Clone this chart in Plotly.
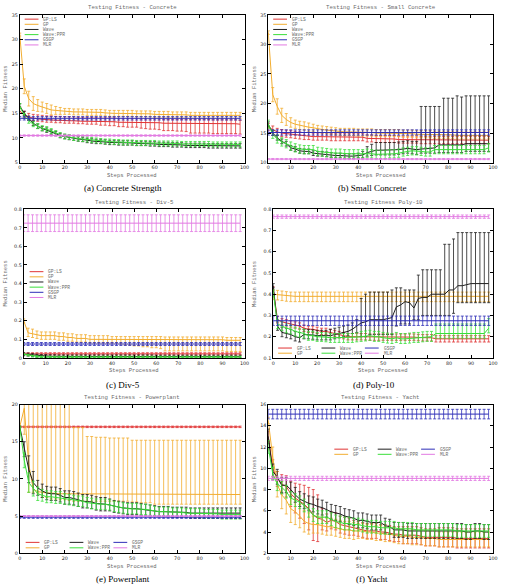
import plotly.graph_objects as go

W, H = 505, 588

STEPS = list(range(0, 100, 2))
SERIES = ["GP:LS", "GP", "Wave", "Wave:PPR", "GSGP", "MLR"]
COLORS = ["#e03434", "#f2ad30", "#1e1e1e", "#3ade3a", "#2e2eb8", "#e27ae2"]

TITLES = ["Testing Fitness - Concrete", "Testing Fitness - Small Concrete",
          "Testing Fitness - Div-5", "Testing Fitness Poly-10",
          "Testing Fitness - Powerplant", "Testing Fitness - Yacht"]
CAPTIONS = ["(a) Concrete Strength", "(b) Small Concrete", "(c) Div-5",
            "(d) Poly-10", "(e) Powerplant", "(f) Yacht"]
X_TITLE = "Steps Processed"
Y_TITLE = "Median Fitness"
X_TICKS = [0, 10, 20, 30, 40, 50, 60, 70, 80, 90, 100]

# ---------------- (a) Concrete ----------------
CON_GPLS = [15.5, 14.6, 14.2, 14.0, 13.9, 13.8, 13.7, 13.7, 13.6, 13.6,
            13.5, 13.5, 13.5, 13.4, 13.4, 13.4, 13.4, 13.4, 13.3, 13.3,
            13.3, 13.3, 13.2, 13.2, 13.2, 13.2, 13.2, 13.1, 13.1, 13.1,
            13.1, 13.1, 13.0, 13.0, 13.0, 13.0, 13.0, 13.0, 13.0, 13.0,
            13.0, 13.0, 13.0, 12.9, 12.9, 12.9, 12.9, 12.9, 12.9, 12.8]
CON_GPLS_UP = 0.8
CON_GPLS_DN = [0.5, 0.5, 0.5, 0.5, 0.5, 0.5, 0.5, 0.5, 0.5, 0.5,
               0.5, 0.5, 0.5, 0.5, 0.5, 0.6, 0.6, 0.6, 0.7, 0.7,
               0.8, 0.8, 0.9, 0.9, 1.0, 1.0, 1.0, 1.1, 1.2, 1.3,
               1.3, 1.4, 1.5, 1.5, 1.5, 1.6, 1.6, 1.7, 2.0, 2.0,
               2.0, 2.0, 2.0, 2.0, 2.0, 2.0, 2.0, 2.0, 2.0, 2.0]
CON_GP = [31.0, 20.5, 18.0, 17.0, 16.6, 16.3, 16.0, 15.7, 15.6, 15.5,
          15.4, 15.4, 15.3, 15.3, 15.3, 15.2, 15.2, 15.2, 15.2, 15.1,
          15.0, 15.0, 15.0, 15.0, 15.0, 15.0, 14.9, 14.9, 14.9, 14.9,
          14.8, 14.8, 14.8, 14.8, 14.7, 14.7, 14.7, 14.7, 14.6, 14.6,
          14.6, 14.6, 14.6, 14.6, 14.6, 14.6, 14.6, 14.6, 14.6, 14.6]
CON_GP_ERR = [0.3, 1.5, 1.5, 1.4, 1.2, 1.0, 1.0, 1.0, 0.8, 0.7,
              0.6, 0.6, 0.6, 0.6, 0.6, 0.6, 0.6, 0.6, 0.6, 0.6,
              0.6, 0.6, 0.6, 0.6, 0.6, 0.6, 0.6, 0.6, 0.6, 0.6,
              0.6, 0.6, 0.6, 0.6, 0.6, 0.6, 0.6, 0.6, 0.6, 0.6,
              0.6, 0.6, 0.6, 0.6, 0.6, 0.6, 0.6, 0.6, 0.6, 0.6]
CON_WAVE = [16.5, 15.0, 14.0, 13.0, 12.4, 11.9, 11.6, 11.2, 10.9, 10.5,
            10.3, 10.1, 10.0, 9.8, 9.7, 9.5, 9.4, 9.3, 9.3, 9.2,
            9.1, 9.1, 9.0, 9.0, 9.0, 9.0, 8.9, 8.9, 8.9, 8.8,
            8.8, 8.7, 8.7, 8.7, 8.6, 8.6, 8.6, 8.5, 8.5, 8.5,
            8.5, 8.5, 8.4, 8.4, 8.4, 8.4, 8.4, 8.4, 8.4, 8.4]
CON_WAVE_ERR = 0.45
CON_PPR = [16.5, 14.5, 13.5, 12.8, 12.4, 12.0, 11.8, 11.4, 11.0, 10.6,
           10.3, 10.2, 10.0, 9.9, 9.8, 9.7, 9.6, 9.5, 9.4, 9.3,
           9.3, 9.2, 9.2, 9.1, 9.1, 9.1, 9.0, 9.0, 9.0, 9.0,
           9.0, 8.9, 8.9, 8.9, 8.9, 8.9, 8.8, 8.8, 8.8, 8.8,
           8.8, 8.8, 8.8, 8.7, 8.7, 8.7, 8.7, 8.7, 8.7, 8.7]
CON_PPR_ERR = 0.5
CON_GSGP = [14.0] * 50
CON_GSGP_ERR = 0.35
CON_MLR = [10.5] * 50
CON_MLR_ERR = 0.15

# ---------------- (b) Small Concrete ----------------
SC_GPLS = [16.0, 15.6, 15.2, 15.0, 14.9, 14.8, 14.7, 14.6, 14.5, 14.5,
           14.4, 14.4, 14.4, 14.4, 14.3, 14.3, 14.3, 14.3, 14.3, 14.3,
           14.3, 14.3, 14.1, 14.1, 14.0, 14.0, 14.0, 14.0, 14.0, 13.9,
           13.9, 13.9, 13.9, 13.9, 13.8, 13.8, 13.8, 13.8, 13.8, 13.8,
           13.8, 13.8, 13.8, 13.8, 13.8, 13.8, 13.8, 13.8, 13.8, 13.8]
SC_GPLS_ERR = 0.6
SC_GP = [32.0, 21.5, 19.5, 18.0, 17.3, 16.8, 16.5, 16.3, 16.2, 16.0,
         15.9, 15.7, 15.6, 15.5, 15.4, 15.3, 15.2, 15.2, 15.2, 15.2,
         15.1, 15.1, 15.1, 15.1, 15.0, 15.0, 15.0, 15.0, 15.0, 15.0,
         14.9, 14.9, 14.9, 14.8, 14.8, 14.8, 14.8, 14.7, 14.7, 14.7,
         14.7, 14.7, 14.6, 14.6, 14.6, 14.6, 14.6, 14.6, 14.6, 14.6]
SC_GP_ERR = [0.3, 1.2, 1.3, 1.2, 1.0, 0.8, 0.7, 0.7, 0.7, 0.7,
             0.6, 0.6, 0.6, 0.6, 0.6, 0.6, 0.6, 0.6, 0.6, 0.6,
             0.6, 0.6, 0.6, 0.6, 0.6, 0.6, 0.6, 0.6, 0.6, 0.6,
             0.6, 0.6, 0.6, 0.6, 0.6, 0.6, 0.6, 0.6, 0.6, 0.6,
             0.6, 0.6, 0.6, 0.6, 0.6, 0.6, 0.6, 0.6, 0.6, 0.6]
SC_WAVE = [16.5, 15.0, 14.2, 13.6, 13.2, 12.5, 12.3, 12.0, 11.9, 11.9,
           11.6, 11.5, 11.5, 11.4, 11.3, 11.2, 11.2, 11.1, 11.1, 11.1,
           11.2, 11.3, 11.7, 11.9, 12.1, 12.1, 12.1, 12.1, 12.1, 12.2,
           12.3, 12.4, 12.3, 12.2, 12.3, 12.3, 12.4, 12.5, 13.0, 13.0,
           13.0, 13.0, 13.0, 13.0, 13.2, 13.2, 13.2, 13.2, 13.2, 13.2]
SC_WAVE_UP = [0.4, 0.4, 0.4, 0.4, 0.4, 0.4, 0.4, 0.4, 0.4, 0.4,
              0.4, 0.4, 0.4, 0.4, 0.4, 0.4, 0.4, 0.4, 0.4, 0.4,
              0.4, 0.6, 1.0, 1.2, 1.3, 1.3, 1.3, 1.3, 1.3, 1.3,
              1.3, 1.3, 1.3, 1.4, 7.2, 7.2, 7.1, 7.0, 6.5, 7.9,
              7.9, 7.9, 8.3, 8.1, 8.1, 8.1, 8.1, 8.1, 8.1, 8.1]
SC_WAVE_DN = [0.4, 0.4, 0.4, 0.4, 0.4, 0.4, 0.4, 0.4, 0.4, 0.4,
              0.4, 0.4, 0.4, 0.4, 0.4, 0.4, 0.4, 0.4, 0.4, 0.4,
              0.4, 0.5, 0.6, 0.7, 0.8, 0.8, 0.8, 0.8, 0.8, 0.8,
              0.8, 0.8, 0.8, 0.8, 0.7, 0.7, 0.8, 0.9, 1.3, 1.3,
              1.3, 1.3, 1.3, 1.3, 1.3, 1.3, 1.3, 1.3, 1.3, 1.3]
SC_PPR = [16.5, 14.8, 14.0, 13.5, 13.2, 12.8, 12.5, 12.3, 12.2, 12.2,
          12.2, 11.9, 11.8, 11.7, 11.6, 11.6, 11.6, 11.5, 11.5, 11.5,
          11.5, 11.5, 11.6, 11.5, 11.4, 11.4, 11.4, 11.5, 11.5, 11.6,
          11.8, 11.9, 12.0, 12.0, 11.9, 11.8, 11.8, 12.2, 12.2, 12.2,
          12.2, 12.2, 12.2, 12.2, 12.2, 12.2, 12.2, 12.2, 12.2, 12.5]
SC_PPR_ERR = 0.7
SC_GSGP = [15.1] * 50
SC_GSGP_ERR = 0.45
SC_MLR = [10.6] * 50
SC_MLR_ERR = 0.1

# ---------------- (c) Div-5 ----------------
DIV_GPLS = [0.022] * 50
DIV_GPLS_ERR = 0.006
DIV_GP = [0.200, 0.135, 0.130, 0.125, 0.120, 0.120, 0.120, 0.120, 0.115, 0.115,
          0.110, 0.110, 0.105, 0.105, 0.105, 0.100, 0.100, 0.100, 0.100, 0.100,
          0.100, 0.100, 0.100, 0.100, 0.100, 0.100, 0.100, 0.100, 0.100, 0.100,
          0.100, 0.100, 0.098, 0.098, 0.098, 0.098, 0.098, 0.098, 0.098, 0.098,
          0.098, 0.098, 0.098, 0.098, 0.098, 0.098, 0.095, 0.095, 0.095, 0.095]
DIV_GP_UP = [0.010, 0.025, 0.025, 0.020, 0.020, 0.020, 0.020, 0.020, 0.020, 0.020,
             0.020, 0.020, 0.020, 0.020, 0.020, 0.020, 0.020, 0.020, 0.020, 0.020,
             0.015, 0.015, 0.015, 0.015, 0.015, 0.015, 0.015, 0.015, 0.015, 0.015,
             0.015, 0.015, 0.015, 0.015, 0.015, 0.015, 0.015, 0.015, 0.015, 0.015,
             0.015, 0.015, 0.015, 0.015, 0.015, 0.015, 0.015, 0.015, 0.015, 0.015]
DIV_GP_DN = [0.010, 0.020, 0.020, 0.020, 0.020, 0.020, 0.020, 0.020, 0.020, 0.020,
             0.020, 0.020, 0.020, 0.020, 0.020, 0.020, 0.020, 0.020, 0.020, 0.020,
             0.020, 0.020, 0.025, 0.030, 0.030, 0.035, 0.035, 0.040, 0.040, 0.045,
             0.045, 0.050, 0.060, 0.060, 0.060, 0.060, 0.060, 0.060, 0.060, 0.060,
             0.060, 0.060, 0.060, 0.060, 0.060, 0.060, 0.060, 0.060, 0.060, 0.060]
DIV_WAVE = [0.020, 0.018, 0.015, 0.012, 0.010, 0.010, 0.009, 0.009, 0.008, 0.008,
            0.008, 0.008, 0.008, 0.008, 0.008, 0.008, 0.008, 0.008, 0.008, 0.008,
            0.008, 0.008, 0.008, 0.008, 0.008, 0.008, 0.008, 0.008, 0.008, 0.008,
            0.007, 0.007, 0.007, 0.007, 0.007, 0.007, 0.007, 0.007, 0.007, 0.007,
            0.007, 0.007, 0.007, 0.007, 0.007, 0.007, 0.007, 0.007, 0.007, 0.007]
DIV_WAVE_ERR = 0.008
DIV_PPR = [0.020, 0.015, 0.010, 0.008, 0.006, 0.005, 0.005, 0.005, 0.005, 0.005,
           0.005, 0.005, 0.005, 0.005, 0.005, 0.005, 0.005, 0.005, 0.005, 0.005,
           0.005, 0.005, 0.005, 0.005, 0.005, 0.005, 0.005, 0.005, 0.005, 0.005,
           0.005, 0.005, 0.005, 0.005, 0.005, 0.005, 0.005, 0.005, 0.005, 0.005,
           0.005, 0.005, 0.005, 0.005, 0.005, 0.005, 0.005, 0.005, 0.005, 0.005]
DIV_PPR_ERR = 0.004
DIV_GSGP = [0.075] * 50
DIV_GSGP_ERR = 0.008
DIV_MLR = [0.725] * 50
DIV_MLR_ERR = 0.045

# ---------------- (d) Poly-10 ----------------
POLY_GPLS = [0.420, 0.280, 0.270, 0.265, 0.260, 0.255, 0.250, 0.240, 0.235, 0.235,
             0.230, 0.225, 0.225, 0.220, 0.215, 0.210, 0.205, 0.200, 0.200, 0.200,
             0.200, 0.200, 0.198, 0.198, 0.198, 0.198, 0.198, 0.198, 0.198, 0.198,
             0.198, 0.198, 0.198, 0.196, 0.195, 0.195, 0.195, 0.190, 0.190, 0.190,
             0.190, 0.190, 0.190, 0.190, 0.190, 0.190, 0.190, 0.190, 0.190, 0.190]
POLY_GPLS_ERR = 0.015
POLY_GP = [0.400, 0.398, 0.395, 0.392, 0.390, 0.390, 0.390, 0.390, 0.390, 0.390,
           0.390, 0.390, 0.390, 0.390, 0.390, 0.390, 0.390, 0.390, 0.390, 0.390,
           0.390, 0.390, 0.390, 0.390, 0.390, 0.390, 0.390, 0.390, 0.390, 0.390,
           0.390, 0.390, 0.390, 0.390, 0.390, 0.390, 0.390, 0.390, 0.390, 0.390,
           0.390, 0.390, 0.390, 0.390, 0.390, 0.390, 0.390, 0.390, 0.390, 0.390]
POLY_GP_UP = 0.02
POLY_GP_DN = 0.025
POLY_WAVE = [0.440, 0.250, 0.220, 0.215, 0.210, 0.200, 0.195, 0.210, 0.210, 0.208,
             0.205, 0.205, 0.205, 0.205, 0.210, 0.215, 0.220, 0.225, 0.235, 0.250,
             0.265, 0.270, 0.280, 0.280, 0.280, 0.280, 0.285, 0.290, 0.340, 0.350,
             0.365, 0.360, 0.335, 0.380, 0.385, 0.385, 0.400, 0.400, 0.400, 0.400,
             0.420, 0.420, 0.440, 0.440, 0.445, 0.450, 0.450, 0.450, 0.450, 0.450]
POLY_WAVE_UP = [0.010, 0.025, 0.025, 0.025, 0.025, 0.025, 0.025, 0.025, 0.025, 0.025,
                0.025, 0.025, 0.025, 0.030, 0.030, 0.030, 0.030, 0.030, 0.030, 0.030,
                0.115, 0.130, 0.130, 0.130, 0.130, 0.130, 0.125, 0.130, 0.090, 0.080,
                0.055, 0.060, 0.085, 0.110, 0.130, 0.130, 0.115, 0.115, 0.115, 0.235,
                0.215, 0.240, 0.250, 0.250, 0.245, 0.240, 0.240, 0.240, 0.240, 0.240]
POLY_WAVE_DN = [0.010, 0.020, 0.020, 0.020, 0.020, 0.020, 0.020, 0.020, 0.020, 0.020,
                0.020, 0.020, 0.020, 0.020, 0.020, 0.020, 0.020, 0.020, 0.020, 0.030,
                0.065, 0.070, 0.070, 0.070, 0.070, 0.070, 0.075, 0.080, 0.090, 0.090,
                0.105, 0.100, 0.055, 0.100, 0.085, 0.085, 0.100, 0.100, 0.100, 0.100,
                0.120, 0.110, 0.080, 0.080, 0.085, 0.090, 0.090, 0.090, 0.090, 0.090]
POLY_PPR = [0.410, 0.260, 0.250, 0.240, 0.235, 0.225, 0.220, 0.215, 0.205, 0.205,
            0.200, 0.200, 0.198, 0.195, 0.195, 0.195, 0.195, 0.195, 0.195, 0.198,
            0.200, 0.202, 0.205, 0.200, 0.200, 0.195, 0.192, 0.190, 0.195, 0.190,
            0.190, 0.192, 0.195, 0.195, 0.198, 0.200, 0.200, 0.215, 0.215, 0.215,
            0.215, 0.215, 0.215, 0.215, 0.215, 0.215, 0.215, 0.215, 0.215, 0.240]
POLY_PPR_UP = [0.010, 0.020, 0.020, 0.020, 0.020, 0.020, 0.020, 0.020, 0.020, 0.020,
               0.020, 0.020, 0.020, 0.020, 0.020, 0.020, 0.020, 0.020, 0.020, 0.020,
               0.025, 0.025, 0.025, 0.025, 0.025, 0.025, 0.025, 0.025, 0.025, 0.025,
               0.025, 0.025, 0.025, 0.025, 0.025, 0.025, 0.025, 0.045, 0.045, 0.045,
               0.045, 0.045, 0.045, 0.045, 0.045, 0.045, 0.045, 0.045, 0.045, 0.045]
POLY_PPR_DN = 0.022
POLY_GSGP = [0.275] * 50
POLY_GSGP_ERR = 0.022
POLY_MLR = [0.765] * 50
POLY_MLR_ERR = 0.008

# ---------------- (e) Powerplant ----------------
PP_GPLS = [17.0] * 50
PP_GPLS_ERR = 0.1
PP_GP = [17.0, 19.5, 12.0, 8.6, 8.3, 8.2, 8.1, 8.1, 8.0, 8.0,
         8.0, 8.0, 8.0, 8.0, 8.0, 7.9, 7.9, 7.9, 7.9, 7.9,
         7.9, 7.9, 7.9, 7.9, 7.9, 7.9, 7.9, 7.9, 7.9, 7.9,
         7.9, 7.9, 7.9, 7.9, 7.9, 7.9, 7.9, 7.9, 7.9, 7.9,
         7.9, 7.9, 7.9, 7.9, 7.9, 7.9, 7.9, 7.9, 7.9, 7.9]
PP_GP_HI = [17.1, 25.0, 25.0, 25.0, 25.0, 25.0, 25.0, 25.0, 25.0, 25.0,
            25.0, 25.0, 16.9, 16.9, 16.9, 15.7, 15.7, 15.6, 15.6, 15.6,
            15.5, 15.5, 15.5, 15.5, 15.5, 15.2, 15.2, 15.2, 15.2, 15.2,
            15.2, 15.2, 15.2, 15.2, 15.2, 15.2, 15.2, 15.2, 15.2, 15.2,
            15.2, 15.2, 15.2, 15.2, 15.2, 15.2, 15.2, 15.2, 15.2, 15.2]
PP_GP_LO = [16.9, 16.0, 8.2, 8.2, 8.1, 7.5, 7.5, 7.3, 7.3, 7.2,
            7.2, 7.1, 7.0, 7.0, 7.0, 7.0, 7.0, 7.0, 7.0, 7.0,
            7.0, 7.0, 7.0, 7.0, 7.0, 6.9, 6.9, 6.8, 6.8, 6.8,
            6.6, 6.6, 6.6, 6.6, 6.6, 6.6, 6.6, 6.6, 6.6, 6.6,
            6.6, 6.6, 6.6, 6.6, 6.6, 6.6, 6.6, 6.6, 6.6, 6.6]
PP_WAVE = [17.0, 14.0, 11.3, 9.5, 8.8, 8.4, 8.1, 8.0, 8.0, 7.8,
           7.5, 7.5, 7.4, 7.2, 7.0, 7.0, 6.9, 6.7, 6.6, 6.6,
           6.5, 6.3, 6.2, 6.1, 6.0, 6.0, 6.0, 5.9, 5.8, 5.7,
           5.7, 5.6, 5.6, 5.6, 5.5, 5.5, 5.5, 5.5, 5.4, 5.4,
           5.4, 5.4, 5.4, 5.4, 5.4, 5.4, 5.4, 5.4, 5.4, 5.4]
PP_WAVE_ERR = [0.1, 1.0, 1.8, 1.5, 1.0, 0.9, 0.9, 0.9, 0.9, 0.9,
               0.9, 0.9, 0.9, 0.9, 0.9, 0.9, 0.9, 0.9, 0.9, 0.9,
               0.8, 0.8, 0.8, 0.8, 0.8, 0.8, 0.8, 0.8, 0.8, 0.8,
               0.7, 0.7, 0.7, 0.7, 0.7, 0.7, 0.7, 0.7, 0.7, 0.7,
               0.7, 0.7, 0.7, 0.7, 0.7, 0.7, 0.7, 0.7, 0.7, 0.7]
PP_PPR = [17.0, 12.5, 9.5, 8.7, 8.0, 7.8, 7.6, 7.6, 7.5, 7.5,
          7.3, 7.2, 7.1, 7.0, 7.0, 6.8, 6.7, 6.6, 6.6, 6.6,
          6.5, 6.3, 6.2, 6.1, 6.0, 6.0, 6.0, 5.9, 5.9, 5.8,
          5.7, 5.6, 5.6, 5.6, 5.5, 5.5, 5.5, 5.4, 5.4, 5.4,
          5.4, 5.3, 5.3, 5.3, 5.3, 5.2, 5.2, 5.2, 5.2, 5.2]
PP_PPR_ERR = [0.1, 1.0, 1.3, 1.0, 0.9, 0.8, 0.8, 0.8, 0.8, 0.8,
              0.7, 0.7, 0.7, 0.7, 0.7, 0.7, 0.7, 0.7, 0.7, 0.7,
              0.7, 0.7, 0.7, 0.7, 0.7, 0.7, 0.7, 0.7, 0.7, 0.7,
              0.6, 0.6, 0.6, 0.6, 0.6, 0.6, 0.6, 0.6, 0.6, 0.6,
              0.6, 0.6, 0.6, 0.6, 0.6, 0.6, 0.6, 0.6, 0.6, 0.6]
PP_GSGP = [4.85] * 50
PP_GSGP_ERR = 0.15
PP_MLR = [5.0] * 50
PP_MLR_ERR = 0.05

# ---------------- (f) Yacht ----------------
Y_GPLS = [13.0, 10.0, 9.0, 8.5, 8.3, 7.6, 7.2, 6.9, 6.6, 6.2,
          5.6, 5.3, 5.2, 4.9, 5.1, 5.0, 4.7, 4.6, 4.5, 4.4,
          4.3, 4.2, 4.1, 4.1, 4.1, 4.0, 4.0, 3.9, 3.8, 3.8,
          3.7, 3.7, 3.7, 3.7, 3.6, 3.5, 3.5, 3.5, 3.5, 3.5,
          3.5, 3.5, 3.4, 3.4, 3.4, 3.4, 3.4, 3.4, 3.4, 3.4]
Y_GPLS_ERR = [0.5, 0.8, 0.7, 0.9, 1.0, 1.2, 1.4, 1.6, 1.8, 2.0,
              2.4, 2.2, 1.0, 0.8, 0.8, 0.8, 0.8, 0.8, 0.8, 0.7,
              0.7, 0.7, 0.7, 0.7, 0.7, 0.7, 0.7, 0.7, 0.7, 0.7,
              0.8, 0.8, 0.8, 0.8, 0.8, 0.8, 0.8, 0.8, 0.9, 0.9,
              0.9, 0.9, 0.9, 0.9, 0.9, 0.9, 0.9, 0.9, 0.9, 0.9]
Y_GP = [14.5, 11.0, 8.5, 7.5, 7.0, 6.2, 5.9, 5.5, 5.0, 4.8,
        4.7, 4.7, 4.6, 4.5, 4.5, 4.4, 4.3, 4.2, 4.2, 4.1,
        4.1, 4.1, 4.0, 4.0, 3.9, 3.9, 3.8, 3.8, 3.7, 3.6,
        3.6, 3.6, 3.5, 3.5, 3.5, 3.4, 3.4, 3.4, 3.3, 3.3,
        3.3, 3.3, 3.3, 3.3, 3.3, 3.3, 3.3, 3.3, 3.3, 3.3]
Y_GP_ERR = [0.3, 1.0, 1.2, 1.3, 1.3, 1.3, 1.2, 1.1, 1.0, 1.0,
            0.8, 0.8, 0.8, 0.8, 0.8, 0.8, 0.8, 0.8, 0.8, 0.8,
            0.7, 0.7, 0.7, 0.7, 0.7, 0.7, 0.7, 0.7, 0.7, 0.7,
            0.7, 0.7, 0.7, 0.7, 0.7, 0.7, 0.7, 0.7, 0.7, 0.7,
            0.7, 0.7, 0.7, 0.7, 0.7, 0.7, 0.7, 0.7, 0.7, 0.7]
Y_WAVE = [13.0, 9.7, 9.2, 8.4, 8.4, 8.0, 7.5, 7.1, 6.9, 6.7,
          6.6, 6.4, 6.3, 6.1, 5.9, 5.8, 5.7, 5.5, 5.4, 5.3,
          5.1, 5.1, 5.0, 4.9, 4.9, 4.9, 4.6, 4.5, 4.2, 4.2,
          4.2, 4.1, 4.1, 4.1, 4.1, 4.1, 4.1, 4.1, 4.1, 4.1,
          4.1, 4.1, 4.1, 4.1, 4.0, 4.0, 4.1, 4.1, 4.0, 4.0]
Y_WAVE_ERR = 0.7
Y_PPR = [12.0, 9.5, 8.5, 8.2, 7.8, 7.2, 7.0, 6.8, 6.5, 6.0,
         5.6, 5.4, 5.4, 5.4, 5.2, 5.0, 4.9, 4.8, 4.8, 4.7,
         4.7, 4.6, 4.5, 4.5, 4.5, 4.4, 4.4, 4.4, 4.4, 4.3,
         4.3, 4.3, 4.3, 4.2, 4.2, 4.2, 4.2, 4.2, 4.2, 4.2,
         4.2, 4.2, 4.1, 4.1, 4.1, 4.1, 4.1, 4.1, 4.1, 4.1]
Y_PPR_ERR = 0.6
Y_GSGP = [15.1] * 50
Y_GSGP_ERR = 0.45
Y_MLR = [9.05] * 50
Y_MLR_ERR = 0.2


def as_list(e):
    if isinstance(e, (int, float)):
        return [e] * len(STEPS)
    return list(e)


PP_GP_UP = [h - v for h, v in zip(PP_GP_HI, PP_GP)]
PP_GP_DN = [v - l for l, v in zip(PP_GP_LO, PP_GP)]

PANEL_DATA = [
    [(CON_GPLS, CON_GPLS_UP, CON_GPLS_DN), (CON_GP, CON_GP_ERR, CON_GP_ERR),
     (CON_WAVE, CON_WAVE_ERR, CON_WAVE_ERR), (CON_PPR, CON_PPR_ERR, CON_PPR_ERR),
     (CON_GSGP, CON_GSGP_ERR, CON_GSGP_ERR), (CON_MLR, CON_MLR_ERR, CON_MLR_ERR)],
    [(SC_GPLS, SC_GPLS_ERR, SC_GPLS_ERR), (SC_GP, SC_GP_ERR, SC_GP_ERR),
     (SC_WAVE, SC_WAVE_UP, SC_WAVE_DN), (SC_PPR, SC_PPR_ERR, SC_PPR_ERR),
     (SC_GSGP, SC_GSGP_ERR, SC_GSGP_ERR), (SC_MLR, SC_MLR_ERR, SC_MLR_ERR)],
    [(DIV_GPLS, DIV_GPLS_ERR, DIV_GPLS_ERR), (DIV_GP, DIV_GP_UP, DIV_GP_DN),
     (DIV_WAVE, DIV_WAVE_ERR, DIV_WAVE_ERR), (DIV_PPR, DIV_PPR_ERR, DIV_PPR_ERR),
     (DIV_GSGP, DIV_GSGP_ERR, DIV_GSGP_ERR), (DIV_MLR, DIV_MLR_ERR, DIV_MLR_ERR)],
    [(POLY_GPLS, POLY_GPLS_ERR, POLY_GPLS_ERR), (POLY_GP, POLY_GP_UP, POLY_GP_DN),
     (POLY_WAVE, POLY_WAVE_UP, POLY_WAVE_DN), (POLY_PPR, POLY_PPR_UP, POLY_PPR_DN),
     (POLY_GSGP, POLY_GSGP_ERR, POLY_GSGP_ERR), (POLY_MLR, POLY_MLR_ERR, POLY_MLR_ERR)],
    [(PP_GPLS, PP_GPLS_ERR, PP_GPLS_ERR), (PP_GP, PP_GP_UP, PP_GP_DN),
     (PP_WAVE, PP_WAVE_ERR, PP_WAVE_ERR), (PP_PPR, PP_PPR_ERR, PP_PPR_ERR),
     (PP_GSGP, PP_GSGP_ERR, PP_GSGP_ERR), (PP_MLR, PP_MLR_ERR, PP_MLR_ERR)],
    [(Y_GPLS, Y_GPLS_ERR, Y_GPLS_ERR), (Y_GP, Y_GP_ERR, Y_GP_ERR),
     (Y_WAVE, Y_WAVE_ERR, Y_WAVE_ERR), (Y_PPR, Y_PPR_ERR, Y_PPR_ERR),
     (Y_GSGP, Y_GSGP_ERR, Y_GSGP_ERR), (Y_MLR, Y_MLR_ERR, Y_MLR_ERR)],
]

Y_RANGES = [[5, 35], [10, 35], [0, 0.8], [0.1, 0.8], [0, 20], [2, 16]]
Y_DTICK = [5, 5, 0.1, 0.1, 5, 2]

# ---- layout geometry (pixels) ----
PLOT_BOX = [  # left, right, top, bottom
    (18, 246, 13, 162), (270, 498, 13, 162),
    (22, 246, 209, 359), (275, 498, 209, 359),
    (18, 246, 406, 556), (270, 498, 406, 556),
]
TITLE_Y = [6, 6, 202, 202, 399, 399]
XTITLE_Y = [175, 175, 372, 372, 569, 569]
CAPTION_POS = [(123, 188), (375, 188), (123, 386), (377, 386), (123, 582), (375, 582)]
YTITLE_X = [4, 256, 4, 256, 4, 256]

LEG_VERT = [(23, 17.3), (275, 17.3), (28, 272.0)]
LEG_DY = 5.2
LEG_GRID = [(280, 349, 44, 5.2), (24, 545, 44.5, 5.5), (337, 451, 44, 5.2)]
LEG_LINE = 14
LEG_GAP = 3

MONO = "Liberation Mono"
GRAY = "#6a6a6a"


def px(x):
    return x / W


def py(y):
    return 1 - y / H


fig = go.Figure()
layout = dict(width=W, height=H, margin=dict(l=0, r=0, t=0, b=0),
              paper_bgcolor="white", plot_bgcolor="white", showlegend=False)
annotations = []
shapes = []

for p in range(6):
    xa = "x" if p == 0 else f"x{p + 1}"
    ya = "y" if p == 0 else f"y{p + 1}"
    for s, (vals, up, dn) in enumerate(PANEL_DATA[p]):
        fig.add_trace(go.Scatter(
            x=STEPS, y=vals, mode="lines", name=SERIES[s],
            xaxis=xa, yaxis=ya,
            line=dict(color=COLORS[s], width=1),
            error_y=dict(type="data", symmetric=False,
                         array=as_list(up), arrayminus=as_list(dn),
                         color=COLORS[s], thickness=0.8, width=1.5),
        ))
    l, r, t, b = PLOT_BOX[p]
    axis_common = dict(showline=True, linecolor="black", linewidth=1, mirror="allticks",
                       ticks="inside", ticklen=3, tickwidth=0.7, tickcolor="black",
                       showgrid=False, zeroline=False,
                       tickfont=dict(family="DejaVu Sans", size=4.8, color="#222"))
    key_x = "xaxis" if p == 0 else f"xaxis{p + 1}"
    key_y = "yaxis" if p == 0 else f"yaxis{p + 1}"
    layout[key_x] = dict(domain=[px(l), px(r)], range=[0, 100], tickvals=X_TICKS,
                         anchor=ya, **axis_common)
    layout[key_y] = dict(domain=[py(b), py(t)], range=Y_RANGES[p], dtick=Y_DTICK[p],
                         tick0=0, anchor=xa, **axis_common)

    cx = (l + r) / 2
    annotations.append(dict(text=TITLES[p], x=px(cx), y=py(TITLE_Y[p]), xref="paper",
                            yref="paper", showarrow=False, xanchor="center", yanchor="middle",
                            font=dict(family=MONO, size=5.7, color=GRAY)))
    annotations.append(dict(text=X_TITLE, x=px(cx), y=py(XTITLE_Y[p]), xref="paper",
                            yref="paper", showarrow=False, xanchor="center", yanchor="middle",
                            font=dict(family=MONO, size=5.5, color=GRAY)))
    annotations.append(dict(text=Y_TITLE, x=px(YTITLE_X[p]), y=py((t + b) / 2), xref="paper",
                            yref="paper", showarrow=False, xanchor="center", yanchor="middle",
                            textangle=-90, font=dict(family=MONO, size=5.5, color=GRAY)))
    cxp, cyp = CAPTION_POS[p]
    annotations.append(dict(text=CAPTIONS[p], x=px(cxp), y=py(cyp), xref="paper",
                            yref="paper", showarrow=False, xanchor="center", yanchor="middle",
                            font=dict(family="Liberation Serif", size=9, color="black")))


def legend_entry(x0, y, s):
    shapes.append(dict(type="line", xref="paper", yref="paper",
                       x0=px(x0), x1=px(x0 + LEG_LINE), y0=py(y), y1=py(y),
                       line=dict(color=COLORS[s], width=1)))
    annotations.append(dict(text=SERIES[s], x=px(x0 + LEG_LINE + LEG_GAP), y=py(y),
                            xref="paper", yref="paper", showarrow=False,
                            xanchor="left", yanchor="middle",
                            font=dict(family=MONO, size=4.6, color=GRAY)))


for (x0, y0) in LEG_VERT:
    for s in range(len(SERIES)):
        legend_entry(x0, y0 + s * LEG_DY, s)

for (x0, y0, dx, dy) in LEG_GRID:
    for s in range(len(SERIES)):
        col, row = s // 2, s % 2
        legend_entry(x0 + col * dx, y0 + row * dy, s)

layout["annotations"] = annotations
layout["shapes"] = shapes
fig.update_layout(**layout)
fig.write_html("out.html")
